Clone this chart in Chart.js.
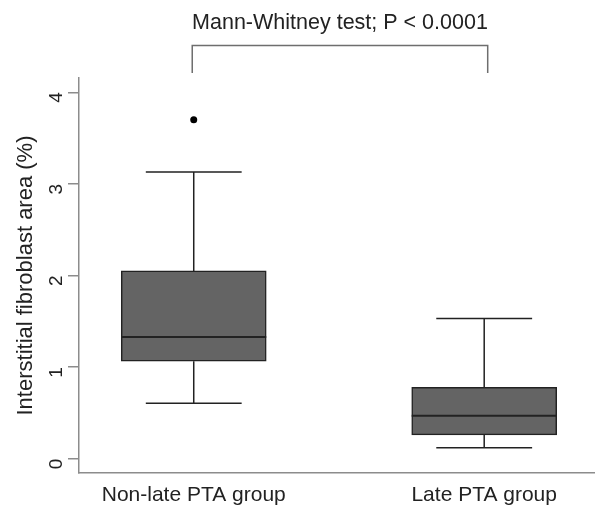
<!DOCTYPE html>
<html>
<head>
<meta charset="utf-8">
<script src="https://cdn.jsdelivr.net/npm/chart.js@4.4.0/dist/chart.umd.min.js"></script>
<style>
  html, body { margin: 0; padding: 0; background: #fff; }
  #wrap { width: 598px; height: 505px; }
</style>
</head>
<body>
<div id="wrap"><canvas id="boxChart"></canvas></div>
<script>
// Box plot summary
const groups = ['Non-late PTA group', 'Late PTA group'];
const groupPos = [1, 2];
const whiskerLow = [0.605, 0.12];
const q1 = [1.065, 0.26];
const median = [1.33, 0.47];
const q3 = [2.05, 0.78];
const whiskerHigh = [3.13, 1.53];
const outlierValues = [[3.70], []];
const yTicks = [0, 1, 2, 3, 4];

// Significance annotation
const testLabel = 'Mann-Whitney test; P < 0.0001';
const bracketGroups = [1, 2];
const bracketY = [4.51, 4.21]; // bar level, leg ends

const FONT = '"Liberation Sans", Arial, sans-serif';
const INK = '#222222';
const AXIS_GREY = '#8c8c8c';
const CAP_HALF = 0.165;

/**
 * Whiskers, caps and medians (Chart.js has no box plot type)
 */
const boxWhiskers = {
    id: 'boxWhiskers',
    beforeDatasetsDraw(chart) {
        const { ctx, scales: { x, y } } = chart;
        ctx.save();
        ctx.strokeStyle = INK;
        ctx.lineWidth = 1.5;
        groupPos.forEach((g, i) => {
            const cx = x.getPixelForValue(g);
            const left = x.getPixelForValue(g - CAP_HALF);
            const right = x.getPixelForValue(g + CAP_HALF);
            const yLo = y.getPixelForValue(whiskerLow[i]);
            const yHi = y.getPixelForValue(whiskerHigh[i]);
            ctx.beginPath();
            ctx.moveTo(cx, yLo);
            ctx.lineTo(cx, y.getPixelForValue(q1[i]));
            ctx.moveTo(cx, y.getPixelForValue(q3[i]));
            ctx.lineTo(cx, yHi);
            ctx.moveTo(left, yLo);
            ctx.lineTo(right, yLo);
            ctx.moveTo(left, yHi);
            ctx.lineTo(right, yHi);
            ctx.stroke();
        });
        ctx.restore();
    },
    afterDatasetsDraw(chart) {
        const { ctx, scales: { y } } = chart;
        const meta = chart.getDatasetMeta(0);
        ctx.save();
        ctx.strokeStyle = INK;
        ctx.lineWidth = 2;
        groupPos.forEach((g, i) => {
            const bar = meta.data[i];
            const ym = y.getPixelForValue(median[i]);
            ctx.beginPath();
            ctx.moveTo(bar.x - bar.width / 2, ym);
            ctx.lineTo(bar.x + bar.width / 2, ym);
            ctx.stroke();
        });
        ctx.restore();
    },
    afterDraw(chart) {
        const { ctx, scales: { x, y } } = chart;
        const xl = x.getPixelForValue(bracketGroups[0]) - 1.5;
        const xr = x.getPixelForValue(bracketGroups[1]) + 3.5;
        const yBar = y.getPixelForValue(bracketY[0]);
        const yLeg = y.getPixelForValue(bracketY[1]);
        ctx.save();
        ctx.strokeStyle = '#6e6e6e';
        ctx.lineWidth = 1.5;
        ctx.beginPath();
        ctx.moveTo(xl, yLeg);
        ctx.lineTo(xl, yBar);
        ctx.lineTo(xr, yBar);
        ctx.lineTo(xr, yLeg);
        ctx.stroke();

        ctx.fillStyle = INK;
        ctx.font = '21.5px ' + FONT;
        ctx.textAlign = 'center';
        ctx.textBaseline = 'alphabetic';
        ctx.fillText(testLabel, (xl + xr) / 2, 29);
        ctx.restore();
    }
};

const boxData = groupPos.map((g, i) => ({ x: g, y: [q1[i], q3[i]] }));
const outlierData = [];
outlierValues.forEach((vals, i) => vals.forEach(v => outlierData.push({ x: groupPos[i], y: v })));

new Chart(document.getElementById('boxChart'), {
    type: 'bar',
    data: {
        datasets: [{
            type: 'bar',
            data: boxData,
            backgroundColor: '#646464',
            borderColor: INK,
            borderWidth: 1.5,
            borderSkipped: false,
            barThickness: 145
        }, {
            type: 'scatter',
            data: outlierData,
            pointRadius: 3.5,
            pointBackgroundColor: '#000',
            pointBorderWidth: 0
        }]
    },
    options: {
        responsive: true,
        maintainAspectRatio: false,
        animation: false,
        layout: {
            padding: { top: 78, right: 1, left: 0, bottom: 0 }
        },
        plugins: {
            legend: { display: false },
            tooltip: { enabled: false }
        },
        scales: {
            x: {
                type: 'linear',
                offset: false,
                min: 0.605,
                max: 2.378,
                afterBuildTicks: (scale) => {
                    scale.ticks = groupPos.map(v => ({ value: v }));
                },
                afterFit: (scale) => { scale.height = 32; },
                grid: { display: false, drawTicks: false },
                border: { display: true, color: AXIS_GREY, width: 1.5 },
                ticks: {
                    padding: 10,
                    maxRotation: 0,
                    autoSkip: false,
                    color: INK,
                    font: { family: FONT, size: 21 },
                    callback: (v) => groups[groupPos.indexOf(v)]
                }
            },
            y: {
                min: -0.156,
                max: 4.156,
                afterBuildTicks: (scale) => {
                    scale.ticks = yTicks.map(v => ({ value: v }));
                },
                afterFit: (scale) => { scale.width = 79; },
                grid: {
                    drawOnChartArea: false,
                    tickLength: 11,
                    color: AXIS_GREY,
                    lineWidth: 1.5
                },
                border: { display: true, color: AXIS_GREY, width: 1.5 },
                ticks: {
                    minRotation: 90,
                    maxRotation: 90,
                    padding: 11,
                    color: INK,
                    font: { family: FONT, size: 19 }
                },
                title: {
                    display: true,
                    text: 'Interstitial fibroblast area (%)',
                    color: INK,
                    font: { family: FONT, size: 22 },
                    padding: { top: 13, bottom: 0 }
                }
            }
        }
    },
    plugins: [boxWhiskers]
});
</script>
</body>
</html>
